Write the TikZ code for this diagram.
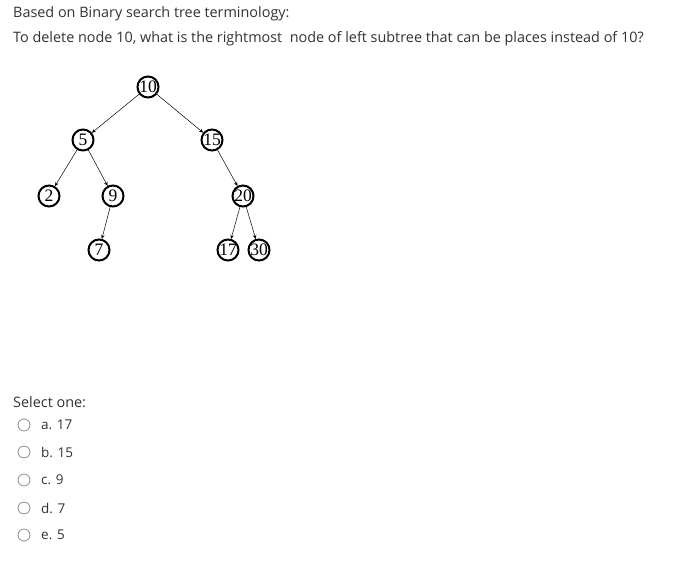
\documentclass[tikz,border=0pt]{standalone}
\usepackage{fontspec}
\setmainfont{Open Sans}
\newfontfamily\treefont{Liberation Serif}
\usetikzlibrary{arrows.meta}
\definecolor{qgray}{HTML}{333333}
\definecolor{rgray}{HTML}{8A8A8A}

\tikzset{
	treenode/.style={circle,draw,line width=2pt,inner sep=0pt,minimum size=21pt,font=\treefont\fontsize{17.5}{17.5}\selectfont},
	edge/.style={-{Stealth[length=4pt,width=3.5pt]},line width=0.5pt},
	qtext/.style={anchor=base west,inner sep=0pt,text=qgray,font=\fontsize{14.4}{17}\selectfont},
	otext/.style={anchor=west,inner sep=0pt,text=qgray,font=\fontsize{13.5}{16}\selectfont},
	radio/.style={circle,draw=rgray,line width=0.8pt,minimum size=12pt,inner sep=0pt}
}

\begin{document}
\begin{tikzpicture}[x=1pt,y=-1pt]
	\useasboundingbox[fill=white] (0,0) rectangle (693,564);

	% question
	\node[qtext] (q1) at (13,18) {Based on Binary search tree terminology:};
	\node[qtext] (q2) at (13,43) {To delete node 10, what is the rightmost\ \ node of left subtree that can be places instead of 10?};

	% the tree
	\node[treenode] (n10) at (148,87) {10};
	\node[treenode] (n5) at (83,140) {5};
	\node[treenode] (n15) at (212,140) {15};
	\node[treenode] (n2) at (49,196) {2};
	\node[treenode] (n9) at (113,196) {9};
	\node[treenode] (n20) at (243,196) {20};
	\node[treenode] (n7) at (99,250) {7};
	\node[treenode] (n17) at (228,250) {17};
	\node[treenode] (n30) at (259,250) {30};

	\draw[edge] (n10)--(n5);
	\draw[edge] (n10)--(n15);
	\draw[edge] (n5)--(n2);
	\draw[edge] (n5)--(n9);
	\draw[edge] (n9)--(n7);
	\draw[edge] (n15)--(n20);
	\draw[edge] (n20)--(n17);
	\draw[edge] (n20)--(n30);

	% answers
	\node[qtext] (sel) at (13,407) {Select one:};
	\foreach \y/\k/\t in {425/a/a. 17,452/b/b. 15,480/c/c. 9,508/d/d. 7,535/e/e. 5}{
		\node[radio] (r\k) at (24,\y) {};
		\node[otext] (o\k) at (41,\y) {\t};
	}
\end{tikzpicture}
\end{document}
